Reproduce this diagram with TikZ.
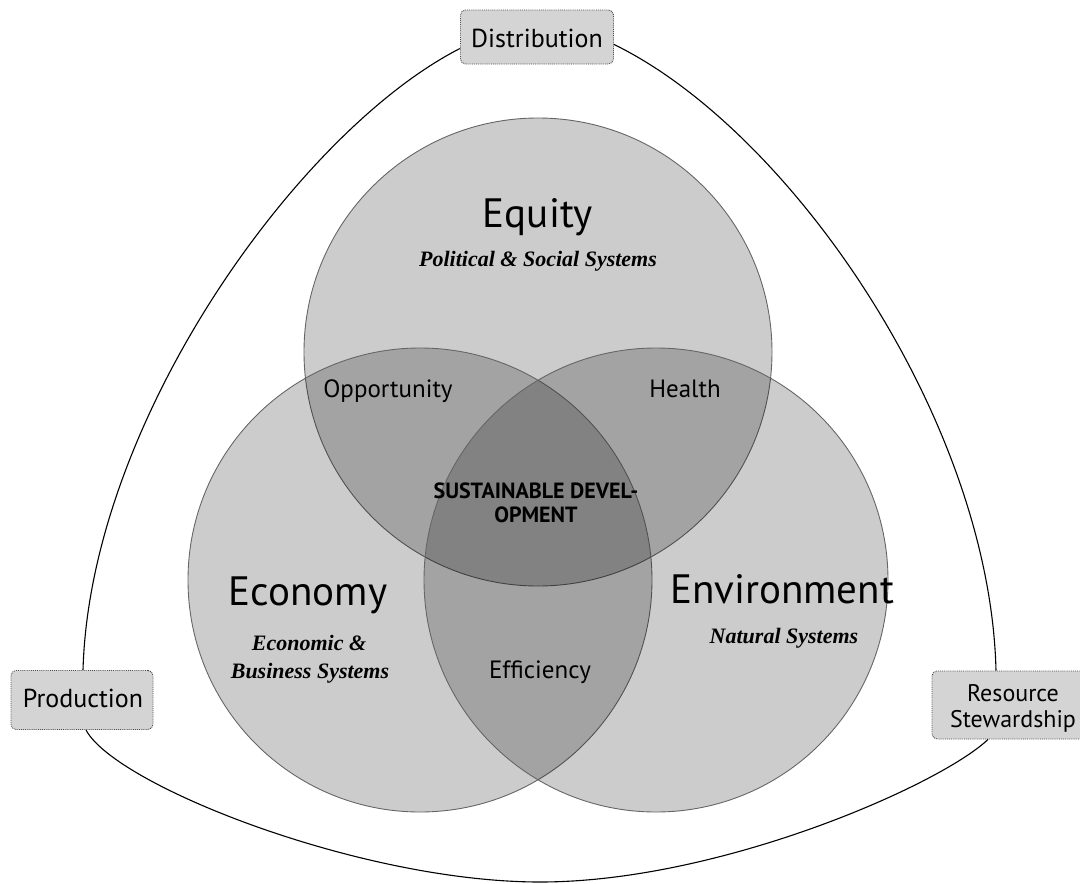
\documentclass[tikz,border=0pt]{standalone}
\usepackage{fontspec}
\setmainfont{Liberation Serif}
\newfontfamily\labelfont{PT Sans}
\newfontfamily\subfont{Liberation Serif}
\usetikzlibrary{calc}
\begin{document}
\begin{tikzpicture}[x=1pt,y=-1pt,
  ring/.style={fill=black, fill opacity=0.2, draw=black!60, draw opacity=1, line width=0.9pt},
  box/.style={draw=black!70, densely dotted, line width=0.9pt, fill=black!17, rounded corners=5pt, inner sep=0pt, align=center},
  outer/.style={draw=black, line width=1.1pt},
  big/.style={font=\labelfont\fontsize{41}{44}\selectfont, anchor=base},
  sub/.style={font=\subfont\bfseries\itshape\fontsize{22}{24}\selectfont, anchor=base},
  mid/.style={font=\labelfont\fontsize{25}{27}\selectfont, anchor=base},
  boxtext/.style={font=\labelfont\fontsize{26}{23}\selectfont, anchor=base},
  core/.style={font=\labelfont\bfseries\fontsize{22}{24}\selectfont, anchor=base},
  ]
\useasboundingbox (0,0) rectangle (1080,884);

% circles
\coordinate (eqc) at (538,352);
\coordinate (ecc) at (420,580);
\coordinate (enc) at (656,580);
\path[ring] (eqc) circle[radius=234pt];
\path[ring] (ecc) circle[radius=232pt];
\path[ring] (enc) circle[radius=232pt];

% boxes
\node[box, minimum width=153pt, minimum height=54pt] (dist) at (537,37) {};
\node[box, minimum width=142pt, minimum height=59pt] (prod) at (82,700) {};
\node[box, minimum width=166pt, minimum height=68pt] (res) at (1015,705) {};

\node[boxtext] (distt) at (537,47) {Distribution};
\node[boxtext] (prodt) at (83,707) {Production};
\node[boxtext, font=\labelfont\fontsize{24}{26}\selectfont, align=center, anchor=center, inner sep=0pt] (rest) at (1013,708) {Resource\\Stewardship};

% outer rounded triangle
\coordinate (dl) at ($(dist.south west)+(0,-16)$);
\coordinate (dr) at ($(dist.south east)+(0,-20)$);
\coordinate (pt) at ($(prod.north)+(1,0)$);
\coordinate (pb) at ($(prod.south)+(4,0)$);
\coordinate (rb) at ($(res.south)+(-27,0)$);
\coordinate (rt) at ($(res.north)+(-19,0)$);
\coordinate (bot) at (540,882);
\draw[outer] (dl) .. controls (300,130) and (90,420) .. (pt);
\draw[outer] (pb) .. controls (115,785) and (360,882) .. (bot)
                  .. controls (720,882) and (940,785) .. (rb);
\draw[outer] (rt) .. controls (990,420) and (790,130) .. (dr);

% texts
\node[big] (equity) at (538,227) {Equity};
\node[sub] (equitys) at (538,266) {Political \& Social Systems};
\node[big] (economy) at (308,605) {Economy};
\node[sub] (economys1) at (309,650) {Economic \&};
\node[sub] (economys2) at (310,678) {Business Systems};
\node[big] (environ) at (782,603) {Environment};
\node[sub] (environs) at (784,643) {Natural Systems};
\node[mid] (opp) at (388,397) {Opportunity};
\node[mid] (health) at (685,397) {Health};
\node[mid] (eff) at (540,678) {Efficiency};
\node[core, align=center, anchor=center, inner sep=0pt] (sd) at (536,503) {SUSTAINABLE DEVEL-\\OPMENT};
\end{tikzpicture}
\end{document}
